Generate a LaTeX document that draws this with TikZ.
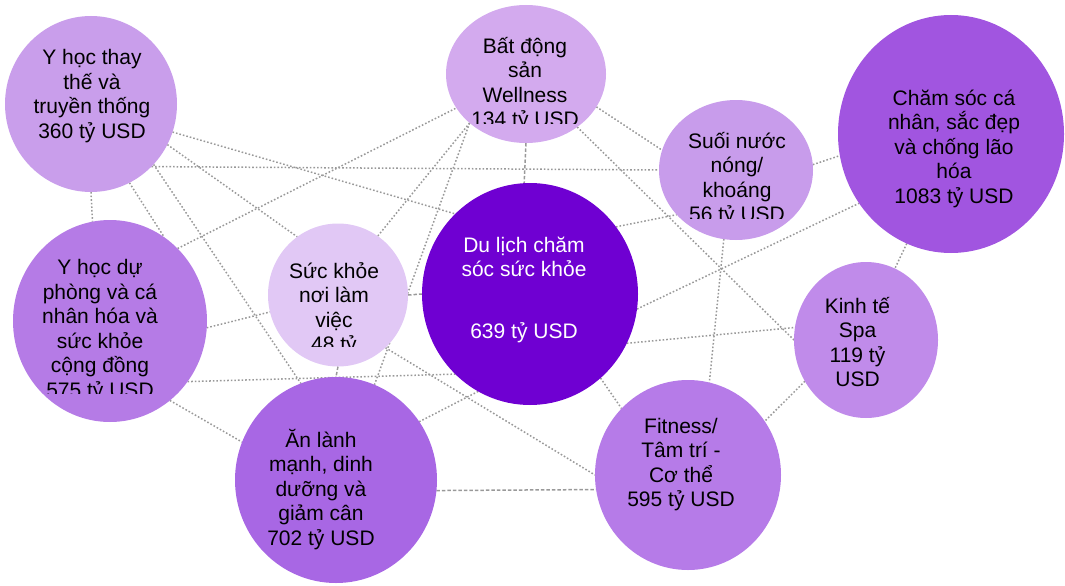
\documentclass[tikz,border=0pt]{standalone}
\usepackage{fontspec}
\setmainfont{Liberation Sans}
\usetikzlibrary{shapes.geometric}
\pgfdeclarelayer{bg}
\pgfsetlayers{bg,main}
\definecolor{cA}{HTML}{C99EEB}
\definecolor{cB}{HTML}{B57BE6}
\definecolor{cC}{HTML}{E1C8F5}
\definecolor{cD}{HTML}{D3AAEE}
\definecolor{cE}{HTML}{6F00D2}
\definecolor{cF}{HTML}{C89CEB}
\definecolor{cG}{HTML}{A155E0}
\definecolor{cH}{HTML}{C08BEA}
\definecolor{cI}{HTML}{B67BE8}
\definecolor{cJ}{HTML}{A867E4}
\definecolor{linegray}{HTML}{999999}
\tikzset{
  bub/.style={ellipse, draw=none, inner sep=0pt, outer sep=0pt},
  lbl/.style={anchor=north, align=center, inner sep=0pt, text=black,
    font=\fontsize{21}{24.5}\selectfont},
  link/.style={draw=linegray, line width=1.5pt, dash pattern=on 1.6pt off 2pt},
  dlink/.style={draw=linegray, line width=1.5pt, dash pattern=on 3.5pt off 2pt},
}
\newcommand{\fs}{\rule{0pt}{20pt}}
\begin{document}
\begin{tikzpicture}[x=1pt,y=-1pt]
\useasboundingbox (0,0) rectangle (1065,586);
% bubbles
\node[bub, fill=cA, minimum width=172pt, minimum height=176pt] (A) at (91,104) {};
\node[bub, fill=cB, minimum width=194pt, minimum height=202pt] (B) at (110,321) {};
\node[bub, fill=cC, minimum width=140pt, minimum height=143pt] (C) at (338,295) {};
\node[bub, fill=cD, minimum width=160pt, minimum height=138pt] (D) at (526,74) {};
\node[bub, fill=cE, minimum width=216pt, minimum height=222pt] (E) at (530,294) {};
\node[bub, fill=cF, minimum width=154pt, minimum height=140pt] (F) at (736,170) {};
\node[bub, fill=cG, minimum width=226pt, minimum height=238pt] (G) at (951,134) {};
\node[bub, fill=cH, minimum width=144pt, minimum height=156pt] (H) at (866,340) {};
\node[bub, fill=cI, minimum width=186pt, minimum height=190pt] (I) at (688,475) {};
\node[bub, fill=cJ, minimum width=202pt, minimum height=206pt] (J) at (336,480) {};
% connectors
\begin{pgfonlayer}{bg}
\draw[link] (A.south) -- (B.100);
\draw[link] (A.-64) -- (B.57);
\draw[link] (A.-44) -- (J.110);
\draw[link] (A.-46) -- (F.west);
\draw[link] (A.-28) -- (C.125);
\draw[link] (A.-19) -- (E.133);
\draw[link] (B.47) -- (D.206);
\draw[link] (B.-4) -- (C.194);
\draw[link] (B.-38) -- (E.227);
\draw[link] (B.-53) -- (J.158);
\draw[dlink] (C.east) -- (E.west);
\draw[dlink] (C.south) -- (J.north);
\draw[link] (C.-48) -- (I.west);
\draw[link] (D.221) -- (C.56);
\draw[link] (D.221) -- (J.68);
\draw[dlink] (D.south) -- (E.93);
\draw[link] (D.-46) -- (H.west);
\draw[link] (D.-25) -- (F.165);
\draw[link] (E.38) -- (F.217);
\draw[link] (E.-8) -- (G.217);
\draw[link] (E.-27) -- (H.170);
\draw[link] (E.-50) -- (I.135);
\draw[link] (E.242) -- (J.35);
\draw[link] (F.260) -- (I.77);
\draw[link] (F.4) -- (G.191);
\draw[link] (G.248) -- (H.68);
\draw[link] (H.214) -- (I.35);
\draw[dlink] (J.-6) -- (I.189);
\end{pgfonlayer}
% labels
\node[lbl] (tA) at (92,44.5) {\fs Y học thay\\thế và\\truyền thống\\360 tỷ USD};
\begin{scope}
\clip (0,220) rectangle (220,393);
\node[lbl] (tB) at (100,254.5) {\fs Y học dự\\phòng và cá\\nhân hóa và\\sức khỏe\\cộng đồng\\575 tỷ USD};
\end{scope}
\begin{scope}
\clip (260,220) rectangle (420,346);
\node[lbl] (tC) at (334,258) {\fs Sức khỏe\\nơi làm\\việc\\48 tỷ};
\end{scope}
\begin{scope}
\clip (440,0) rectangle (612,123);
\node[lbl] (tD) at (525,33) {\fs Bất động\\sản\\Wellness\\134 tỷ USD};
\end{scope}
\node[lbl, text=white] (tE) at (524,232) {\fs Du lịch chăm\\sóc sức khỏe\\[37pt]639 tỷ USD};
\begin{scope}
\clip (655,95) rectangle (820,218.5);
\node[lbl] (tF) at (737,128) {\fs Suối nước\\nóng/\\khoáng\\56 tỷ USD};
\end{scope}
\node[lbl] (tG) at (954,85) {\fs Chăm sóc cá\\nhân, sắc đẹp\\và chống lão\\hóa\\1083 tỷ USD};
\node[lbl] (tH) at (857.5,293) {\fs Kinh tế\\Spa\\119 tỷ\\USD};
\node[lbl] (tI) at (681,413) {\fs Fitness/\\Tâm trí -\\Cơ thể\\595 tỷ USD};
\node[lbl] (tJ) at (321,427) {\fs Ăn lành\\mạnh, dinh\\dưỡng và\\giảm cân\\702 tỷ USD};
\end{tikzpicture}
\end{document}
